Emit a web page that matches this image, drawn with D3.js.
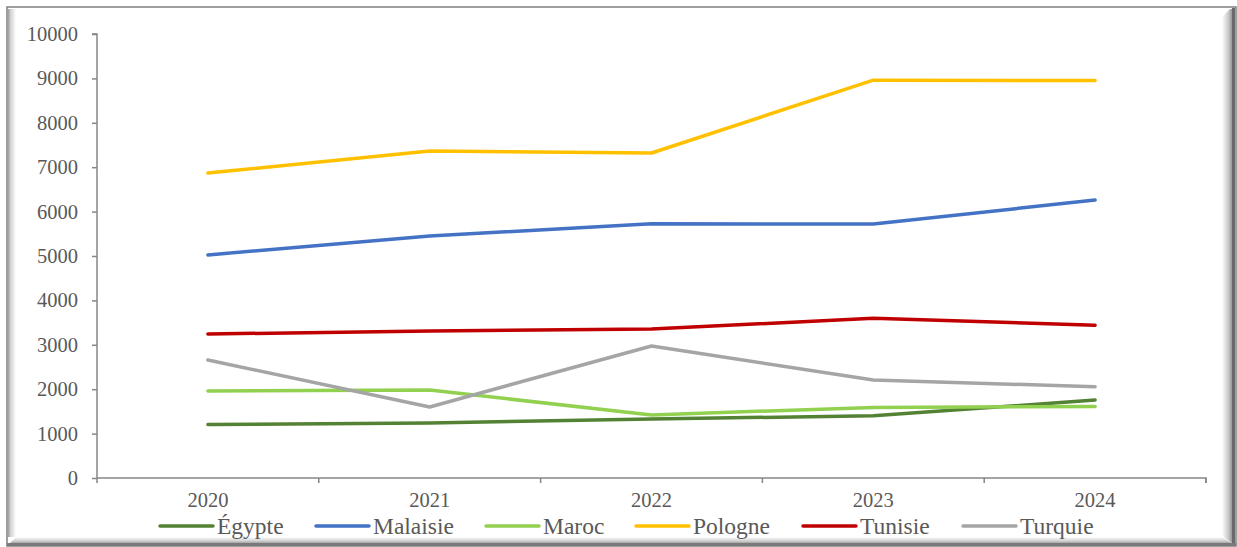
<!DOCTYPE html>
<html><head><meta charset="utf-8">
<script src="https://cdn.jsdelivr.net/npm/d3@7"></script>
<style>html,body{margin:0;padding:0;background:#fff;}svg{display:block;}</style>
</head><body>
<svg id="c" width="1237" height="547"></svg>
<script>
const categories = ["2020","2021","2022","2023","2024"];
const seriesNames = ["Égypte","Malaisie","Maroc","Pologne","Tunisie","Turquie"];
const egypte   = [1205, 1240, 1330, 1400, 1757];
const malaisie = [5025, 5450, 5725, 5720, 6260];
const maroc    = [1960, 1980, 1420, 1590, 1610];
const pologne  = [6870, 7365, 7320, 8960, 8950];
const tunisie  = [3243, 3310, 3355, 3597, 3440];
const turquie  = [2658, 1600, 2973, 2207, 2055];
const colors = ["#548235","#4472C4","#92D050","#FFC000","#C00000","#A5A5A5"];
const yTicks = [0,1000,2000,3000,4000,5000,6000,7000,8000,9000,10000];
const legendX = [160, 316, 486, 636, 803, 963];

(function(){
const allSeries = [egypte, malaisie, maroc, pologne, tunisie, turquie];
const svg = d3.select("#c");
const defs = svg.append("defs");
function grad(id, x1,y1,x2,y2, stops){
  const g = defs.append("linearGradient").attr("id",id).attr("x1",x1).attr("y1",y1).attr("x2",x2).attr("y2",y2);
  stops.forEach(s=>g.append("stop").attr("offset",s[0]).attr("stop-color",s[1]));
}
grad("gl","0","0","1","0",[[0,"#9a9a9a"],[0.3,"#d0d0d0"],[1,"#ffffff"]]);
grad("gr","0","0","1","0",[[0,"#ffffff"],[0.5,"#c8c8c8"],[1,"#6e6e6e"]]);
grad("gb","0","0","0","1",[[0,"#ffffff"],[0.5,"#cfcfcf"],[1,"#7a7a7a"]]);

// frame
svg.append("rect").attr("x",7).attr("y",7).attr("width",1229).attr("height",539).attr("fill","#fff").attr("stroke","#7f7f7f").attr("stroke-width",1.5);
svg.append("rect").attr("x",8).attr("y",9).attr("width",8).attr("height",528).attr("fill","url(#gl)");
svg.append("path").attr("d","M1222,17 L1230,9 L1235,9 L1235,545 L1222,536 Z").attr("fill","url(#gr)");
svg.append("path").attr("d","M16,537 L1222,537 L1235,545 L8,545 Z").attr("fill","url(#gb)");
svg.append("rect").attr("x",1232).attr("y",8).attr("width",3).attr("height",538).attr("fill","#6a6a6a");
svg.append("rect").attr("x",7).attr("y",543).attr("width",1229).attr("height",3).attr("fill","#7a7a7a");

const mLeft = 97, mRight = 1206, mTop = 34, mBottom = 478;
const x = d3.scaleBand().domain(categories).range([mLeft,mRight]);
const y = d3.scaleLinear().domain([0,10000]).range([mBottom,mTop]);
const font = "'Liberation Serif','Times New Roman',serif";
const textCol = "#595959", axisCol = "#868686";

// y axis
const yAxis = svg.append("g").attr("transform",`translate(${mLeft},0)`)
  .call(d3.axisLeft(y).tickValues(yTicks).tickSize(5).tickPadding(14).tickFormat(d3.format("d")));
yAxis.select(".domain").attr("stroke",axisCol).attr("stroke-width",1.5).attr("d",`M-5,${mTop}H0V${mBottom}`);
yAxis.selectAll(".tick line").attr("stroke",axisCol).attr("stroke-width",1.5);
yAxis.selectAll("text").attr("fill",textCol).style("font-family",font).style("font-size","20.5px");

// x axis
const xAxis = svg.append("g").attr("transform",`translate(0,${mBottom})`)
  .call(d3.axisBottom(x).tickSize(0).tickPadding(14));
xAxis.select(".domain").attr("stroke",axisCol).attr("stroke-width",1.5).attr("d",`M${mLeft},0H${mRight}V5`);
xAxis.selectAll("text").attr("fill",textCol).style("font-family",font).style("font-size","20.5px");
const bounds = categories.map(c=>x(c)).concat([mRight]);
xAxis.selectAll(".btick").data(bounds).join("line").attr("class","btick")
  .attr("x1",d=>d).attr("x2",d=>d).attr("y1",0).attr("y2",5).attr("stroke",axisCol).attr("stroke-width",1.5);

// lines
const line = d3.line().x((d,i)=>x(categories[i])+x.bandwidth()/2).y(d=>y(d));
allSeries.forEach((s,i)=>{
  svg.append("path").datum(s).attr("d",line).attr("fill","none").attr("stroke",colors[i])
    .attr("stroke-width",3.5).attr("stroke-linejoin","round").attr("stroke-linecap","round");
});

// legend
const lg = svg.append("g");
seriesNames.forEach((n,i)=>{
  lg.append("line").attr("x1",legendX[i]).attr("x2",legendX[i]+53).attr("y1",526).attr("y2",526)
    .attr("stroke",colors[i]).attr("stroke-width",3.5).attr("stroke-linecap","round");
  lg.append("text").attr("x",legendX[i]+57).attr("y",534).text(n).attr("fill",textCol)
    .style("font-family",font).style("font-size","23.5px");
});
})();
</script>
</body></html>
